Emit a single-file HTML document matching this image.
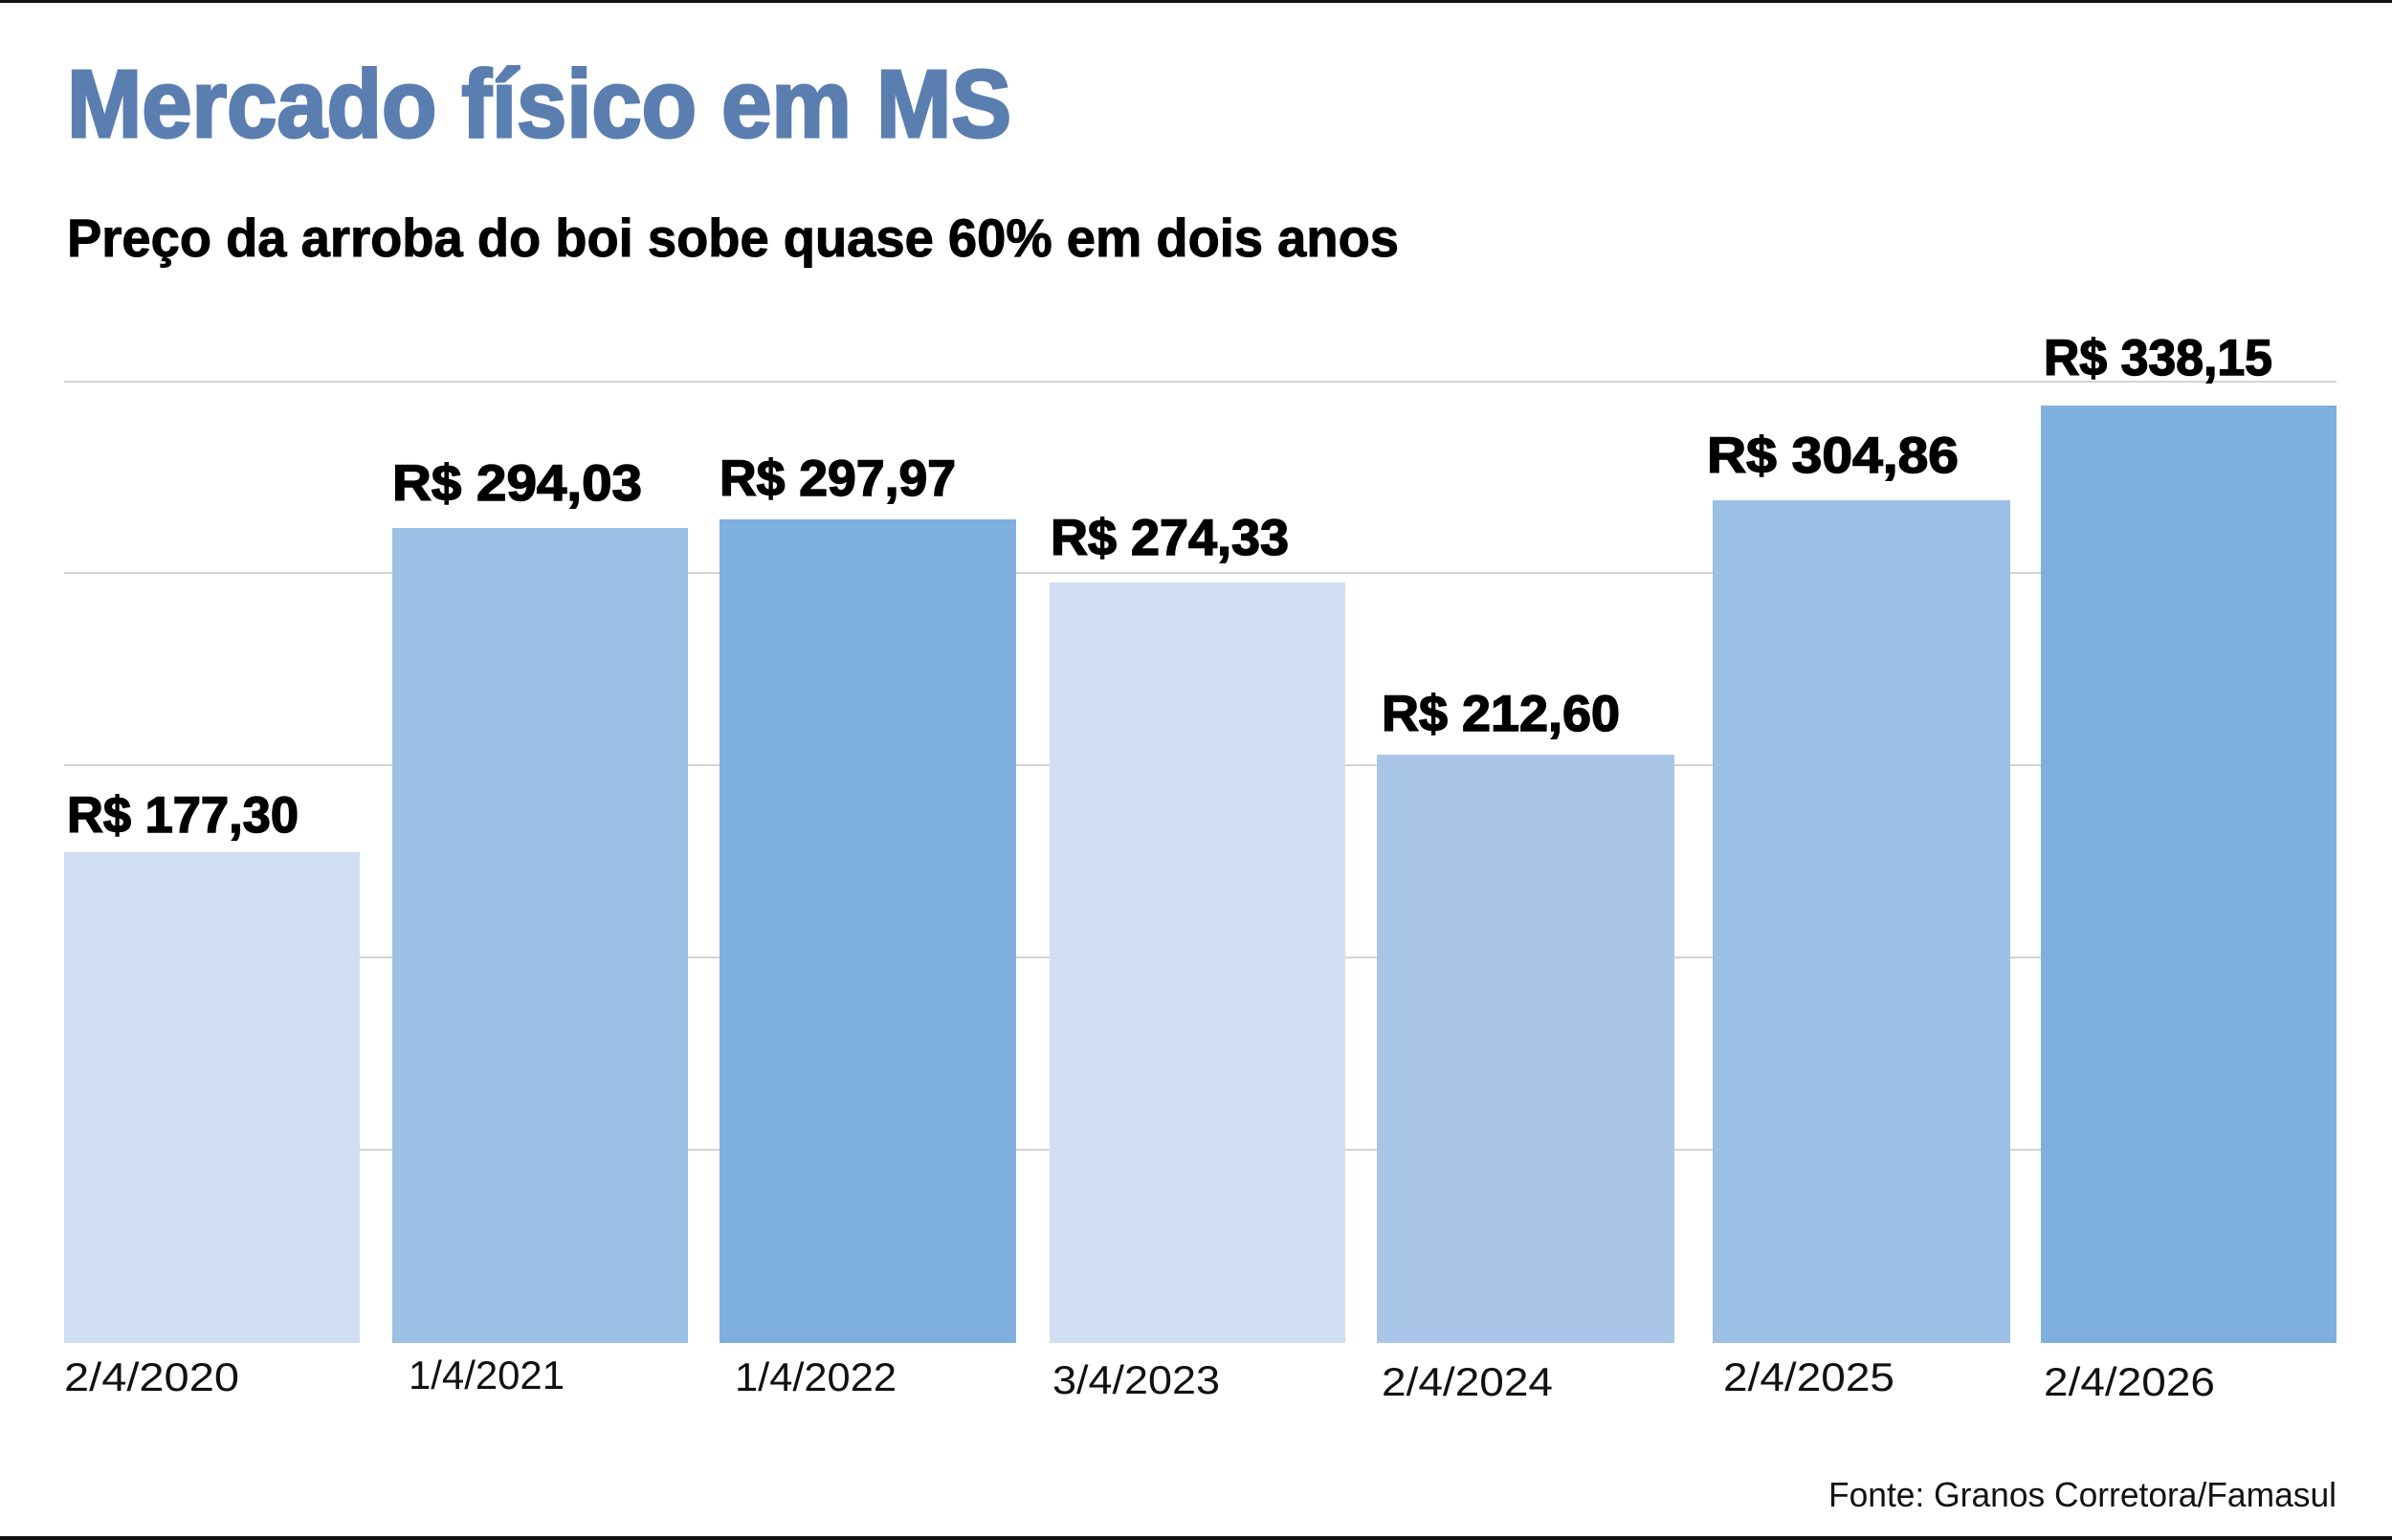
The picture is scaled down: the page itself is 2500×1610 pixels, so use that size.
<!DOCTYPE html>
<html><head><meta charset="utf-8"><style>html,body{margin:0;padding:0;background:#fff}svg{display:block}</style></head>
<body>
<svg width="2500" height="1610" viewBox="0 0 2500 1610" xmlns="http://www.w3.org/2000/svg" font-family="Liberation Sans, sans-serif">
<rect width="2500" height="1610" fill="#fff"/>
<rect x="0" y="0" width="2500" height="3" fill="#111"/>
<rect x="0" y="1606" width="2500" height="4" fill="#111"/>
<text x="70" y="143" font-size="100" font-weight="bold" fill="#5b7eb0" stroke="#5b7eb0" stroke-width="3" textLength="987" lengthAdjust="spacingAndGlyphs">Mercado físico em MS</text>
<text x="70" y="268" font-size="56" font-weight="bold" fill="#000" stroke="#000" stroke-width="1" textLength="1392" lengthAdjust="spacingAndGlyphs">Preço da arroba do boi sobe quase 60% em dois anos</text>
<g stroke="#d3d3d3" stroke-width="2">
<line x1="67" x2="2442" y1="399" y2="399"/>
<line x1="67" x2="2442" y1="599" y2="599"/>
<line x1="67" x2="2442" y1="800" y2="800"/>
<line x1="67" x2="2442" y1="1001" y2="1001"/>
<line x1="67" x2="2442" y1="1202" y2="1202"/>
</g>
<rect x="67" y="891" width="309" height="513" fill="#cfdef2"/>
<rect x="410" y="552" width="309" height="852" fill="#9bbfe5"/>
<rect x="752" y="543" width="310" height="861" fill="#7eafdd"/>
<rect x="1097" y="609" width="309" height="795" fill="#cfdef2"/>
<rect x="1439" y="789" width="311" height="615" fill="#a9c6e9"/>
<rect x="1790" y="523" width="311" height="881" fill="#9bbfe5"/>
<rect x="2133" y="424" width="309" height="980" fill="#7eafdd"/>
<g font-size="53" font-weight="bold" fill="#000" stroke="#000" stroke-width="1.5">
<text x="70" y="870" textLength="242" lengthAdjust="spacingAndGlyphs">R$ 177,30</text>
<text x="410" y="523" textLength="261" lengthAdjust="spacingAndGlyphs">R$ 294,03</text>
<text x="752" y="518" textLength="247" lengthAdjust="spacingAndGlyphs">R$ 297,97</text>
<text x="1098" y="580" textLength="249" lengthAdjust="spacingAndGlyphs">R$ 274,33</text>
<text x="1444" y="764" textLength="249" lengthAdjust="spacingAndGlyphs">R$ 212,60</text>
<text x="1784" y="494" textLength="263" lengthAdjust="spacingAndGlyphs">R$ 304,86</text>
<text x="2136" y="392" textLength="239" lengthAdjust="spacingAndGlyphs">R$ 338,15</text>
</g>
<g font-size="42" fill="#111">
<text x="67" y="1454" textLength="183" lengthAdjust="spacingAndGlyphs">2/4/2020</text>
<text x="427" y="1452" textLength="163" lengthAdjust="spacingAndGlyphs">1/4/2021</text>
<text x="768" y="1454" textLength="169" lengthAdjust="spacingAndGlyphs">1/4/2022</text>
<text x="1100" y="1457" textLength="175" lengthAdjust="spacingAndGlyphs">3/4/2023</text>
<text x="1444" y="1459" textLength="179" lengthAdjust="spacingAndGlyphs">2/4/2024</text>
<text x="1801" y="1454" textLength="179" lengthAdjust="spacingAndGlyphs">2/4/2025</text>
<text x="2136" y="1459" textLength="179" lengthAdjust="spacingAndGlyphs">2/4/2026</text>
</g>
<text x="1911" y="1575" font-size="36" fill="#111" textLength="531" lengthAdjust="spacingAndGlyphs">Fonte: Granos Corretora/Famasul</text>
</svg>
</body></html>
